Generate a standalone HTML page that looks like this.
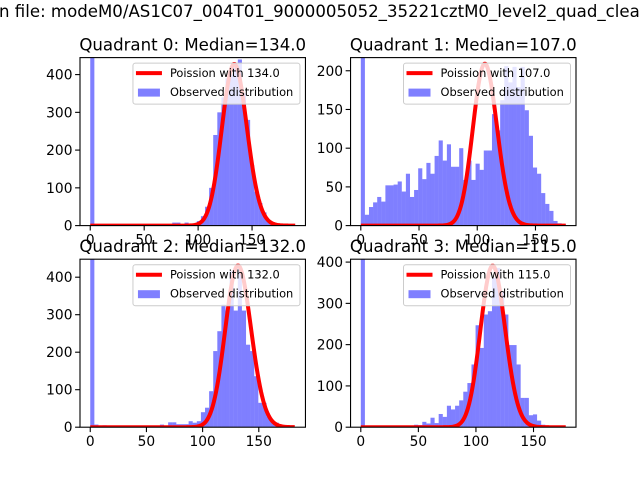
<!DOCTYPE html>
<html><head><meta charset="utf-8"><style>
html,body{margin:0;padding:0;background:#fff;}
svg{display:block;font-family:"DejaVu Sans","Liberation Sans",sans-serif;}
</style></head><body>
<svg id="fig" width="640" height="480" viewBox="0 0 640 480">
<text x="-1" y="17" font-size="16.6" fill="#000">n file: modeM0/AS1C07_004T01_9000005052_35221cztM0_level2_quad_clean.evt</text>
</svg>
<script>
// ---- data ----
const quadrants = ["Quadrant 0", "Quadrant 1", "Quadrant 2", "Quadrant 3"];
const medians = [134.0, 107.0, 132.0, 115.0];
const dataMax = [190, 176, 182.4, 178];
const yMax = [445, 217, 448, 407];
const curvePeak = [428, 209, 431, 391];
const yTickStep = [100, 50, 100, 100];
const xTickLabels = [0, 50, 100, 150];
const counts0 = [600,0,0,0,0,0,0,0,0,0,0,0,0,0,0,0,0,0,0,0,8,8,3,8,3,5,12,25,50,100,240,300,340,390,400,420,440,350,280,160,90,60,35,12,5,2,1,0,0,1];
const counts1 = [300,14,24,30,37,31,52,52,53,57,44,67,37,46,74,60,81,67,90,110,84,105,76,76,100,59,84,59,80,72,97,97,144,123,162,206,185,205,179,205,149,116,75,67,42,28,19,6,3,2];
const counts2 = [600,7,3,5,0,0,0,0,0,0,0,0,0,0,0,0,0,7,0,13,13,8,8,8,16,12,16,40,52,96,203,256,327,311,416,311,425,311,220,203,136,65,65,29,16,12,3,1,1,0];
const counts3 = [600,0,0,0,0,0,0,0,0,0,0,0,0,6,5,13,9,23,10,32,25,52,43,52,65,86,107,152,247,192,273,281,362,386,329,273,199,199,152,71,71,29,31,16,6,1,0,0,0,1];
const allCounts = [counts0, counts1, counts2, counts3];

// ---- layout ----
const NS = "http://www.w3.org/2000/svg";
const fig = document.getElementById("fig");
const axW = 225.45, axH = 168;
const axPos = [[80,57.6],[350.55,57.6],[80,259.2],[350.55,259.2]];
function mk(tag, attrs, parent){const e=document.createElementNS(NS,tag);for(const k in attrs)e.setAttribute(k,attrs[k]);(parent||fig).appendChild(e);return e;}
function lgam(n){let s=0;for(let i=2;i<=n;i++)s+=Math.log(i);return s;}
function logp(k,l){return k*Math.log(l)-l-lgam(k);}

for(let q=0;q<4;q++){
  const [ax,ay]=axPos[q];
  const counts=allCounts[q];
  const nb=counts.length, mx=dataMax[q], bw=mx/nb;
  const x0=-0.05*mx, x1=1.05*mx;
  const X=v=>ax+(v-x0)/(x1-x0)*axW;
  const Y=v=>ay+axH-(v/yMax[q])*axH;
  const g=mk("g",{});
  
  
  const cid="clip"+q;
  const cp=mk("clipPath",{id:cid},g);
  mk("rect",{x:ax,y:ay,width:axW,height:axH},cp);
  const plot=mk("g",{"clip-path":"url(#"+cid+")"},g);
  for(let i=0;i<nb;i++){
    if(counts[i]<=0)continue;
    const r=mk("rect",{x:X(i*bw),y:Y(counts[i]),width:X((i+1)*bw)-X(i*bw)+0.02,height:Y(0)-Y(counts[i]),fill:"#0000ff","fill-opacity":0.5},plot);
    
    
  }
  const lam=medians[q], ref=logp(Math.round(lam),lam);
  let d="";
  for(let k=0;k<=Math.floor(mx);k++){
    const v=curvePeak[q]*Math.exp(logp(k,lam)-ref);
    d+=(k?"L":"M")+X(k).toFixed(2)+","+Y(v).toFixed(2);
  }
  const pl=mk("path",{d:d,fill:"none",stroke:"#ff0000","stroke-width":4,"stroke-linejoin":"round"},plot);
  
  
  const fr=mk("rect",{x:ax,y:ay,width:axW,height:axH,fill:"none",stroke:"#000","stroke-width":1.1},g);
  
  
  for(const t of xTickLabels){
    const px=X(t);
    mk("line",{x1:px,x2:px,y1:ay+axH,y2:ay+axH+4.9,stroke:"#000","stroke-width":1.1},g);
    const tx=mk("text",{x:px,y:ay+axH+19,"font-size":13.8,"text-anchor":"middle"},g);
    tx.textContent=t;
    
    
  }
  for(let t=0;t<=yMax[q];t+=yTickStep[q]){
    const py=Y(t);
    mk("line",{x1:ax-4.9,x2:ax,y1:py,y2:py,stroke:"#000","stroke-width":1.1},g);
    const tx=mk("text",{x:ax-7.5,y:py+5,"font-size":13.8,"text-anchor":"end"},g);
    tx.textContent=t;
    
    
  }
  const ti=mk("text",{x:ax+axW/2,y:ay-7,"font-size":16.6,"text-anchor":"middle"},g);
  ti.textContent=quadrants[q]+": Median="+medians[q].toFixed(1);
  
  
  const lg=mk("g",{},g);
  
  
  const lx=ax+axW-5.5-167, ly=ay+5.5;
  mk("rect",{x:lx,y:ly,width:167,height:41,rx:2.5,fill:"#fff","fill-opacity":0.8,stroke:"#cccccc","stroke-width":1},lg);
  mk("line",{x1:lx+3,x2:lx+29,y1:ly+10,y2:ly+10,stroke:"#ff0000","stroke-width":4},lg);
  const t1=mk("text",{x:lx+37,y:ly+14,"font-size":11.4},lg);
  t1.textContent="Poission with "+medians[q].toFixed(1);
  
  
  mk("rect",{x:lx+5,y:ly+25.5,width:22,height:8,fill:"#0000ff","fill-opacity":0.5},lg);
  const t2=mk("text",{x:lx+37,y:ly+33,"font-size":11.4},lg);
  t2.textContent="Observed distribution";
  
  
}
</script>
</body></html>
